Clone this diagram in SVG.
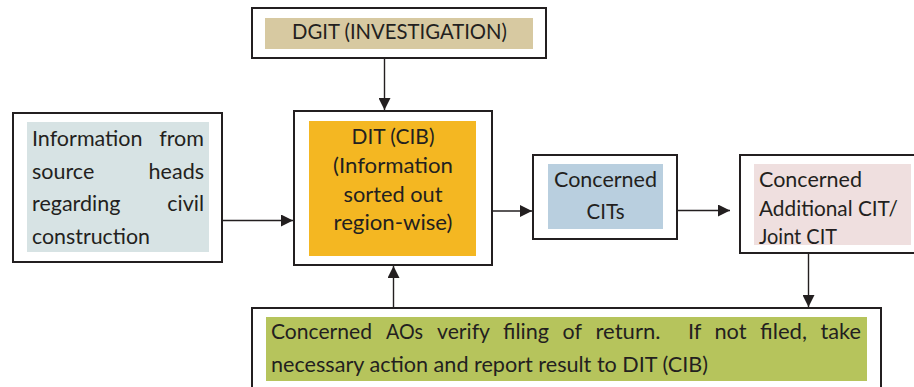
<svg xmlns="http://www.w3.org/2000/svg" width="914" height="387" viewBox="0 0 914 387">
  <style>
    .frame { fill: #ffffff; stroke: #231f20; stroke-width: 2; }
    .lbl { font-family: Lato, "Liberation Sans", sans-serif; font-size: 21.5px; fill: #231f20; }
    .mid { text-anchor: middle; }
    .end { text-anchor: end; }
    .link { fill: none; stroke: #231f20; stroke-width: 1.4; }
  </style>
  <defs>
    <marker id="head" viewBox="0 0 12 12" refX="12" refY="6" markerWidth="12" markerHeight="12" markerUnits="userSpaceOnUse" orient="auto">
      <path d="M0,0 L12,6 L0,12 Z" fill="#231f20"/>
    </marker>
  </defs>
  <rect width="914" height="387" fill="#ffffff"/>

  <!-- connectors -->
  <g id="connectors">
    <line class="link" x1="384.5" y1="59" x2="384.5" y2="110" marker-end="url(#head)"/>
    <line class="link" x1="223" y1="220.5" x2="293" y2="220.5" marker-end="url(#head)"/>
    <line class="link" x1="493" y1="211" x2="532" y2="211" marker-end="url(#head)"/>
    <line class="link" x1="678" y1="210.5" x2="730" y2="210.5" marker-end="url(#head)"/>
    <line class="link" x1="808.5" y1="254" x2="808.5" y2="307" marker-end="url(#head)"/>
    <line class="link" x1="393.5" y1="307" x2="393.5" y2="266" marker-end="url(#head)"/>
  </g>

  <!-- DGIT -->
  <g id="dgit">
    <rect class="frame" x="252" y="8" width="294" height="50"/>
    <rect x="265" y="18" width="268" height="31" fill="#d7c9a1"/>
    <text class="lbl mid" x="399.5" y="38.5" textLength="215" lengthAdjust="spacingAndGlyphs">DGIT (INVESTIGATION)</text>
  </g>

  <!-- source information -->
  <g id="source">
    <rect class="frame" x="13" y="113" width="209" height="149"/>
    <rect x="27" y="122" width="182" height="130" fill="#d7e3e4"/>
    <text class="lbl" x="32" y="146">Information</text>
    <text class="lbl end" x="204" y="146">from</text>
    <text class="lbl" x="32" y="178.5">source</text>
    <text class="lbl end" x="204" y="178.5">heads</text>
    <text class="lbl" x="32" y="211">regarding</text>
    <text class="lbl end" x="204" y="211">civil</text>
    <text class="lbl" x="32" y="243.5" textLength="118" lengthAdjust="spacingAndGlyphs">construction</text>
  </g>

  <!-- DIT (CIB) -->
  <g id="dit">
    <rect class="frame" x="294" y="111" width="198" height="154"/>
    <rect x="309" y="121" width="167" height="135" fill="#f4b722"/>
    <text class="lbl mid" x="393" y="144" textLength="83" lengthAdjust="spacingAndGlyphs">DIT (CIB)</text>
    <text class="lbl mid" x="393" y="173" textLength="120" lengthAdjust="spacingAndGlyphs">(Information</text>
    <text class="lbl mid" x="393" y="201.5" textLength="99" lengthAdjust="spacingAndGlyphs">sorted out</text>
    <text class="lbl mid" x="393" y="230" textLength="119" lengthAdjust="spacingAndGlyphs">region-wise)</text>
  </g>

  <!-- Concerned CITs -->
  <g id="cits">
    <rect class="frame" x="533" y="155" width="144" height="84"/>
    <rect x="548" y="164" width="115" height="65" fill="#b9cfdf"/>
    <text class="lbl mid" x="605.5" y="187" textLength="103" lengthAdjust="spacingAndGlyphs">Concerned</text>
    <text class="lbl mid" x="605.5" y="219" textLength="38" lengthAdjust="spacingAndGlyphs">CITs</text>
  </g>

  <!-- Additional / Joint CIT -->
  <g id="addl-cit">
    <rect class="frame" x="740" y="155" width="200" height="98"/>
    <rect x="754" y="164" width="157" height="81" fill="#efdfdf"/>
    <text class="lbl" x="759" y="187" textLength="103" lengthAdjust="spacingAndGlyphs">Concerned</text>
    <text class="lbl" x="759" y="215.5" textLength="139" lengthAdjust="spacingAndGlyphs">Additional CIT/</text>
    <text class="lbl" x="759" y="244" textLength="78" lengthAdjust="spacingAndGlyphs">Joint CIT</text>
  </g>

  <!-- Assessing officers -->
  <g id="aos">
    <rect class="frame" x="252" y="308" width="629" height="100"/>
    <rect x="266" y="317" width="601" height="64" fill="#b6c45c"/>
    <text class="lbl" y="338.5">
      <tspan x="271" textLength="101" lengthAdjust="spacingAndGlyphs">Concerned</tspan>
      <tspan x="386" textLength="37" lengthAdjust="spacingAndGlyphs">AOs</tspan>
      <tspan x="437" textLength="52.5" lengthAdjust="spacingAndGlyphs">verify</tspan>
      <tspan x="503" textLength="46" lengthAdjust="spacingAndGlyphs">filing</tspan>
      <tspan x="562.5" textLength="19" lengthAdjust="spacingAndGlyphs">of</tspan>
      <tspan x="595.5" textLength="65" lengthAdjust="spacingAndGlyphs">return.</tspan>
      <tspan x="688" textLength="13" lengthAdjust="spacingAndGlyphs">If</tspan>
      <tspan x="714.5" textLength="32" lengthAdjust="spacingAndGlyphs">not</tspan>
      <tspan x="760" textLength="47" lengthAdjust="spacingAndGlyphs">filed,</tspan>
      <tspan x="820.5" textLength="40.5" lengthAdjust="spacingAndGlyphs">take</tspan>
    </text>
    <text class="lbl" x="271" y="372" textLength="437" lengthAdjust="spacingAndGlyphs">necessary action and report result to DIT (CIB)</text>
  </g>
</svg>
